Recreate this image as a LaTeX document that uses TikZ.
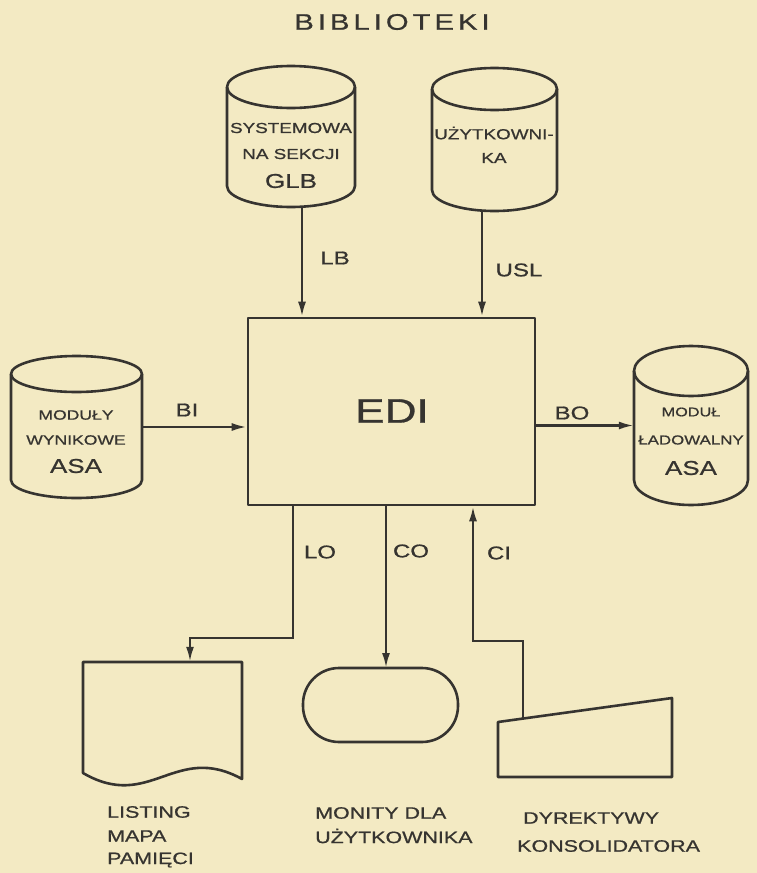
\documentclass[tikz,border=0pt]{standalone}
\usepackage{fontspec}
\setmainfont{Liberation Sans}[FakeStretch=1.3, FakeBold=0.8]
\usetikzlibrary{arrows.meta}
\definecolor{paper}{HTML}{F3EAC3}
\definecolor{ink}{HTML}{363430}
\newcommand\mycyl[6]{%
  \node[inner sep=0, minimum width={#3-#2}, minimum height={#5-#4}] (#1) at ({(#2+#3)/2},{(#4+#5)/2}) {};
  \draw[shp] ({(#2+#3)/2},{#4+#6}) ellipse [x radius={(#3-#2)/2}, y radius=#6];
  \draw[shp] (#2,{#4+#6}) -- (#2,{#5-#6}) arc[start angle=180, end angle=0, x radius={(#3-#2)/2}, y radius=#6] -- (#3,{#4+#6});
}
\begin{document}
\begin{tikzpicture}[x=1pt, y=-1pt,
  shp/.style={draw=ink, line width=2.6pt, line join=round},
  arr/.style={draw=ink, line width=2.4pt, -{Latex[length=15pt,width=8pt]}},
  txt/.style={text=ink, inner sep=0, font=\fontsize{14.5}{16}\selectfont, align=center},
  big/.style={text=ink, inner sep=0, font=\fontsize{20}{22}\selectfont},
  lbl/.style={text=ink, inner sep=0, font=\fontsize{18.5}{20}\selectfont},
  captxt/.style={text=ink, inner sep=0, font=\fontsize{16.5}{18}\selectfont, anchor=west}]
\fill[paper] (0,0) rectangle (757,873);
\useasboundingbox (0,0) rectangle (757,873);

% title
\node[text=ink, inner sep=0, font=\fontsize{22.5}{24}\selectfont] (title) at (392,22)
  {B\kern4pt I\kern4pt B\kern4pt L\kern4pt I\kern4pt O\kern4pt T\kern4pt E\kern4pt K\kern4pt I};

% cylinders
\mycyl{sys}{227}{355}{66}{207}{21}
\mycyl{usr}{432}{557}{68}{211}{21}
\mycyl{mod}{11}{142}{356}{498}{18}
\mycyl{lad}{634}{748}{346}{505}{25}

\node[txt] (t1) at (291,128) {SYSTEMOWA};
\node[txt] (t2) at (291,154) {NA SEKCJI};
\node[big] (t3) at (291,181) {GLB};
\node[txt] (t4) at (494,133) {UŻYTKOWNI-};
\node[txt] (t5) at (494,158) {KA};
\node[txt, font=\fontsize{13.5}{15}\selectfont] (t6) at (76,415) {MODUŁY};
\node[txt, font=\fontsize{13.5}{15}\selectfont] (t7) at (76,440) {WYNIKOWE};
\node[big] (t8) at (76,466) {ASA};
\node[txt, font=\fontsize{12.5}{14}\selectfont] (t9) at (691,412) {MODUŁ};
\node[txt, font=\fontsize{13}{15}\selectfont] (t10) at (691,440) {ŁADOWALNY};
\node[big] (t11) at (691,468) {ASA};

% central box
\node[shp, minimum width=287, minimum height=187, inner sep=0] (edi) at (391.5,411.5) {};
\node[text=ink, inner sep=0, font=\fontsize{34}{36}\selectfont] (editxt) at (392,411) {EDI};

% bottom shapes
\node[inner sep=0, minimum width=159, minimum height=125] (doc) at (162.5,724.5) {};
\draw[shp] (83,662) -- (242,662) -- (242,779) .. controls (175,742) and (150,812) .. (83,773) -- cycle;
\node[shp, rounded corners=36pt, minimum width=155, minimum height=74, inner sep=0] (mon) at (380.5,705) {};
\node[inner sep=0, minimum width=174, minimum height=79] (dyr) at (585,737.5) {};
\draw[shp] (498,722) -- (672,698) -- (672,777) -- (498,777) -- cycle;
\coordinate (ciin) at (523,718.6);
\coordinate (lobend) at (293,638);
\coordinate (cibend) at (473,641);
\coordinate (coin) at (386,668);

% connectors
\draw[arr] ([xshift=11pt]sys.south) -- ([xshift=11pt]sys.south |- edi.north);
\draw[arr] ([xshift=-12.5pt]usr.south) -- ([xshift=-12.5pt]usr.south |- edi.north);
\draw[arr] (mod.east) -- (mod.east -| edi.west);
\draw[arr] (edi.east |- lad.west) -- (lad.west);
\draw[arr] (edi.south -| lobend) -- (lobend) -| ([xshift=27.5pt]doc.north);
\draw[arr] (edi.south -| coin) -- (coin);
\draw[arr] (ciin) |- (cibend) -- (edi.south -| cibend);

% connector labels
\node[lbl] (lLB) at (335,258) {LB};
\node[lbl] (lUSL) at (519,270) {USL};
\node[lbl] (lBI) at (187,410) {BI};
\node[lbl] (lBO) at (572,413) {BO};
\node[lbl] (lLO) at (320,552) {LO};
\node[lbl] (lCO) at (411,551) {CO};
\node[lbl] (lCI) at (499,553) {CI};

% captions
\node[captxt] (c1) at (107,812) {LISTING};
\node[captxt] (c2) at (107,836) {MAPA};
\node[captxt] (c3) at (107,860) {PAMIĘCI};
\node[captxt] (c4) at (315,813) {MONITY DLA};
\node[captxt] (c5) at (315,836) {UŻYTKOWNIKA};
\node[captxt] (c6) at (523,818) {DYREKTYWY};
\node[captxt] (c7) at (517,846) {KONSOLIDATORA};
\end{tikzpicture}
\end{document}
